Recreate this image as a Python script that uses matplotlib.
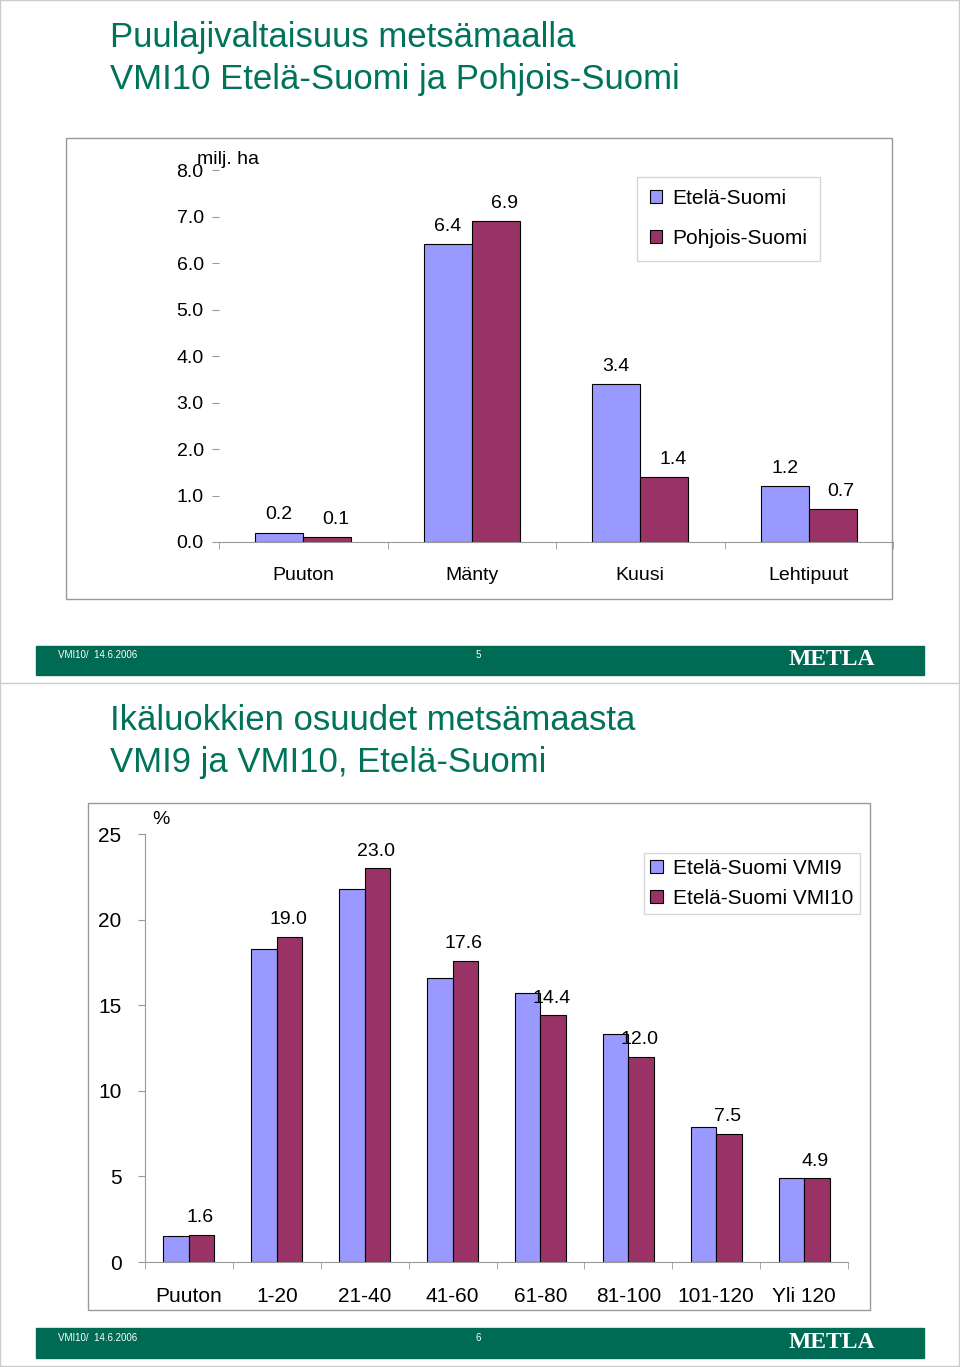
import matplotlib
matplotlib.use("Agg")
import matplotlib.pyplot as plt
from matplotlib.patches import Rectangle
import numpy as np

cats1 = ["Puuton", "Mänty", "Kuusi", "Lehtipuut"]
etela1 = [0.2, 6.4, 3.4, 1.2]
pohjois1 = [0.1, 6.9, 1.4, 0.7]

cats2 = ["Puuton", "1-20", "21-40", "41-60", "61-80", "81-100", "101-120", "Yli 120"]
vmi9 = [1.5, 18.3, 21.8, 16.6, 15.7, 13.3, 7.9, 4.9]
vmi10 = [1.6, 19.0, 23.0, 17.6, 14.4, 12.0, 7.5, 4.9]

W, H = 960, 1367
C1, C2 = "#9999ff", "#993366"
GREEN = "#006b54"
TG = "#00735a"
fig = plt.figure(figsize=(9.6, 13.67), dpi=100)
plt.rcParams["font.family"] = "Liberation Sans"

def ax_px(x0, y0, x1, y1, **kw):
    return fig.add_axes([x0 / W, 1 - y1 / H, (x1 - x0) / W, (y1 - y0) / H], **kw)

def txt(x, y, s, **kw):
    fig.text(x / W, 1 - y / H, s, **kw)

def rect(x0, y0, x1, y1, **kw):
    fig.patches.append(Rectangle((x0 / W, 1 - y1 / H), (x1 - x0) / W, (y1 - y0) / H,
                                 transform=fig.transFigure, **kw))

# page separators
rect(0, 0, 959, 1366, fill=False, ec="#cccccc", lw=1)
fig.add_artist(plt.Line2D([0, 1], [1 - 683 / H] * 2, color="#cccccc", lw=1, transform=fig.transFigure))

# slide 1
txt(110, 38, "Puulajivaltaisuus metsämaalla", fontsize=25, color=TG, va="center")
txt(110, 80, "VMI10 Etelä-Suomi ja Pohjois-Suomi", fontsize=25, color=TG, va="center")
rect(66, 138, 892, 599, fill=False, ec="#999999", lw=1)
ax = ax_px(219, 170, 893, 542)
x = np.arange(len(cats1))
w = 0.285
ax.bar(x - w / 2, etela1, w, color=C1, ec="black", lw=0.8, label="Etelä-Suomi")
ax.bar(x + w / 2, pohjois1, w, color=C2, ec="black", lw=0.8, label="Pohjois-Suomi")
for i in range(len(cats1)):
    ax.text(x[i] - w / 2, etela1[i] + 0.2, f"{etela1[i]:.1f}", ha="center", va="bottom", fontsize=14)
    ax.text(x[i] + w / 2 + 0.05, pohjois1[i] + 0.2, f"{pohjois1[i]:.1f}", ha="center", va="bottom", fontsize=14)
ax.set_xlim(-0.5, 3.5); ax.set_ylim(0, 8)
ax.set_yticks(np.arange(0, 8.1, 1.0))
ax.set_yticklabels([f"{v:.1f}" for v in np.arange(0, 8.1, 1.0)], fontsize=14)
ax.set_xticks(x); ax.set_xticklabels(cats1, fontsize=14)
ax.set_xticks(np.arange(-0.5, 4, 1), minor=True)
ax.tick_params(axis="x", which="major", length=0, pad=18)
ax.tick_params(axis="x", which="minor", length=5, color="#999999")
ax.tick_params(axis="y", length=5, color="#999999", pad=6)
for s in ["top", "right", "left"]:
    ax.spines[s].set_visible(False)
ax.spines["bottom"].set_color("#999999")
ax.patch.set_alpha(0)
txt(197, 160, "milj. ha", fontsize=14, va="center")
ax.legend(loc="upper left", bbox_to_anchor=(0.605, 1.01), fontsize=15, frameon=True,
          fancybox=False, edgecolor="#cccccc", handlelength=0.6, handleheight=0.6, labelspacing=1.0,
          borderpad=0.6, handletextpad=0.5)

rect(36, 646, 924, 675, color=GREEN)
txt(58, 655, "VMI10/  14.6.2006", fontsize=7, color="white", va="center")
txt(476, 655, "5", fontsize=7, color="white", va="center")
txt(832, 659, "METLA", fontsize=17, color="white", va="center", ha="center", family="Liberation Serif", weight="bold")

# slide 2
txt(110, 721, "Ikäluokkien osuudet metsämaasta", fontsize=25, color=TG, va="center")
txt(110, 762, "VMI9 ja VMI10, Etelä-Suomi", fontsize=25, color=TG, va="center")
rect(88, 803, 870, 1310, fill=False, ec="#999999", lw=1)
ax2 = ax_px(145, 834, 848, 1262)
x2 = np.arange(len(cats2))
w2 = 0.29
ax2.bar(x2 - w2 / 2, vmi9, w2, color=C1, ec="black", lw=0.8, label="Etelä-Suomi VMI9")
ax2.bar(x2 + w2 / 2, vmi10, w2, color=C2, ec="black", lw=0.8, label="Etelä-Suomi VMI10")
for i in range(len(cats2)):
    ax2.text(x2[i] + 0.13, vmi10[i] + 0.5, f"{vmi10[i]:.1f}", ha="center", va="bottom", fontsize=14)
ax2.set_xlim(-0.5, 7.5); ax2.set_ylim(0, 25)
ax2.set_yticks(range(0, 26, 5))
ax2.set_yticklabels([str(v) for v in range(0, 26, 5)], fontsize=15)
ax2.set_xticks(x2); ax2.set_xticklabels(cats2, fontsize=15)
ax2.set_xticks(np.arange(-0.5, 8, 1), minor=True)
ax2.tick_params(axis="x", which="major", length=0, pad=18)
ax2.tick_params(axis="x", which="minor", length=5, color="#999999")
ax2.tick_params(axis="y", length=5, color="#999999", pad=12)
for s in ["top", "right"]:
    ax2.spines[s].set_visible(False)
ax2.spines["bottom"].set_color("#999999"); ax2.spines["left"].set_color("#999999")
ax2.patch.set_alpha(0)
txt(152, 820, "%", fontsize=14, va="center")
ax2.legend(loc="upper left", bbox_to_anchor=(0.695, 0.98), fontsize=15, frameon=True,
           fancybox=False, edgecolor="#cccccc", handlelength=0.6, handleheight=0.6, labelspacing=0.5,
           borderpad=0.3, handletextpad=0.5)

rect(36, 1328, 924, 1358, color=GREEN)
txt(58, 1338, "VMI10/  14.6.2006", fontsize=7, color="white", va="center")
txt(476, 1338, "6", fontsize=7, color="white", va="center")
txt(832, 1342, "METLA", fontsize=17, color="white", va="center", ha="center", family="Liberation Serif", weight="bold")

fig.savefig("out.png", dpi=100)
